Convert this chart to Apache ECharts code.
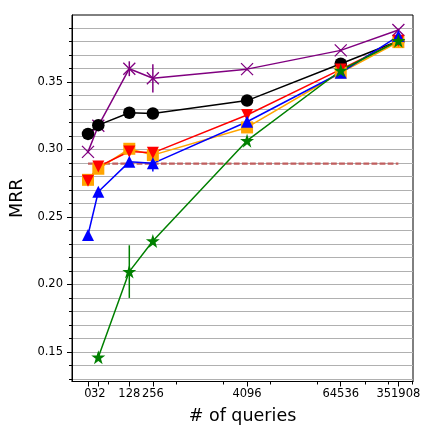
<!DOCTYPE html>
<html>
<head>
<meta charset="utf-8">
<script src="https://cdn.jsdelivr.net/npm/echarts@6/dist/echarts.min.js"></script>
<style>
  html, body { margin: 0; padding: 0; background: #fff; }
  #chart { width: 427px; height: 440px; }
</style>
</head>
<body>
<div id="chart"></div>
<script>
// number of queries (x) and MRR per method
const queries = [0, 32, 128, 256, 4096, 64536, 351908]
const xTickLabels = ['0', '32', '128', '256', '4096', '64536', '351908']
const xMinorTicks = [64, 512, 2048, 8192, 32768, 131072, 262144, 524288]
const yMajorTicks = [0.15, 0.20, 0.25, 0.30, 0.35]
const yMinorTicks = [0.13, 0.14, 0.15, 0.16, 0.17, 0.18, 0.19, 0.20, 0.21, 0.22, 0.23, 0.24, 0.25, 0.26,
  0.27, 0.28, 0.29, 0.30, 0.31, 0.32, 0.33, 0.34, 0.35, 0.36, 0.37, 0.38, 0.39]

const purple = [0.2982, 0.3175, 0.3598, 0.3527, 0.3595, 0.3734, 0.3885]
const purpleErr = [0.001, 0.001, 0.0055, 0.0105, 0.001, 0.001, 0.001]
const black = [0.3115, 0.3180, 0.3272, 0.3266, 0.3362, 0.3635, 0.3803]
const blackErr = [0.001, 0.001, 0.001, 0.001, 0.003, 0.001, 0.001]
const orange = [0.2775, 0.2857, 0.3005, 0.2958, 0.3163, 0.3570, 0.3795]
const orangeErr = [0.001, 0.001, 0.002, 0.001, 0.001, 0.001, 0.001]
const red = [0.2768, 0.2873, 0.2985, 0.2975, 0.3255, 0.3593, 0.3806]
const redErr = [0.002, 0.001, 0.0035, 0.003, 0.001, 0.001, 0.002]
const blue = [0.2366, 0.2687, 0.2908, 0.2897, 0.3205, 0.3568, 0.3840]
const blueErr = [0.001, 0.001, 0.001, 0.006, 0.001, 0.001, 0.001]
const green = [null, 0.1461, 0.2095, 0.2322, 0.3065, 0.3585, 0.3805]
const greenErr = [0, 0.0025, 0.0195, 0.001, 0.001, 0.001, 0.001]
const baseline = [0.2895, 0.2895]
const baselineX = [0, 351908]

// symlog-like x scale: linear up to 128, log2 after
const LIN = 1.754
function xt(n) {
  return n <= 128 ? n / 128 * LIN : LIN + Math.log2(n / 128)
}

const FONT = 'DejaVu Sans'
const STAR = 'path://M50,0L61.8,36.2L100,36.2L69.1,58.6L80.9,95.1L50,72.6L19.1,95.1L30.9,58.6L0,36.2L38.2,36.2Z'
const CROSS = 'path://M0,0L10,10M10,0L0,10'

function lineSeries(vals, color, symbol, size, extra) {
  const data = []
  vals.forEach((v, i) => { if (v != null) data.push([xt(queries[i]), v]) })
  return Object.assign({
    type: 'line',
    data: data,
    symbol: symbol,
    symbolSize: size,
    lineStyle: { color: color, width: 1.5 },
    itemStyle: { color: color },
    z: 3,
    animation: false
  }, extra || {})
}

function errSeries(vals, errs, color) {
  const data = []
  vals.forEach((v, i) => { if (v != null) data.push([xt(queries[i]), v, errs[i]]) })
  return {
    type: 'custom',
    data: data,
    z: 2,
    animation: false,
    renderItem: (params, api) => {
      const x = api.value(0), y = api.value(1), e = api.value(2)
      const p1 = api.coord([x, y - e])
      const p2 = api.coord([x, y + e])
      return {
        type: 'line',
        shape: { x1: p1[0], y1: p1[1], x2: p2[0], y2: p2[1] },
        style: { stroke: color, lineWidth: 1.5 }
      }
    }
  }
}

function nearestLabel(v) {
  let best = 0
  queries.forEach((q, i) => { if (Math.abs(xt(q) - v) < Math.abs(xt(queries[best]) - v)) best = i })
  return xTickLabels[best]
}

const chart = echarts.init(document.getElementById('chart'))

// "32" sits right against "0", so it goes on the second (minor) axis to avoid overlap hiding
const xMajor = queries.map(xt)
const xLabelsA = queries.filter(q => q !== 32).map(xt)
const xLabelsB = [xt(32)]
const tickLabelStyle = { margin: 7, color: '#000', fontFamily: FONT, fontSize: 11.5, formatter: nearestLabel }

const option = {
  backgroundColor: '#fff',
  grid: { left: 72, right: 14, top: 15, bottom: 58.5, show: true, borderColor: '#000', borderWidth: 1 },
  xAxis: [
    {
      type: 'value', min: -0.679, max: 13.80, position: 'bottom',
      name: '# of queries', nameLocation: 'middle', nameGap: 26,
      nameTextStyle: { fontFamily: FONT, fontSize: 17.5, color: '#000' },
      axisLine: { show: true, onZero: false, lineStyle: { color: '#000', width: 1 } },
      axisTick: { customValues: xMajor, length: 5, lineStyle: { color: '#000', width: 1 } },
      axisLabel: Object.assign({ customValues: xLabelsA }, tickLabelStyle),
      splitLine: { show: false }
    },
    {
      type: 'value', min: -0.679, max: 13.80, position: 'bottom',
      axisLine: { show: false, onZero: false },
      axisTick: { customValues: xMinorTicks.map(xt), length: 3, lineStyle: { color: '#000', width: 1 } },
      axisLabel: Object.assign({ customValues: xLabelsB }, tickLabelStyle),
      splitLine: { show: false }
    }
  ],
  yAxis: [
    {
      type: 'value', min: 0.1281, max: 0.3996, position: 'left',
      name: 'MRR', nameLocation: 'middle', nameGap: 38,
      nameTextStyle: { fontFamily: FONT, fontSize: 17.5, color: '#000' },
      axisLine: { show: true, onZero: false, lineStyle: { color: '#000', width: 1 } },
      axisTick: { customValues: yMajorTicks, length: 5, lineStyle: { color: '#000', width: 1 } },
      axisLabel: {
        customValues: yMajorTicks, margin: 9, color: '#000', fontFamily: FONT, fontSize: 11.5,
        formatter: v => v.toFixed(2)
      },
      splitLine: { show: false }
    },
    {
      type: 'value', min: 0.1281, max: 0.3996, position: 'left',
      axisLine: { show: false, onZero: false },
      axisTick: { customValues: yMinorTicks, length: 3, lineStyle: { color: '#000', width: 1 } },
      axisLabel: { show: false },
      splitLine: { show: true, lineStyle: { color: '#b0b0b0', width: 1 } }
    }
  ],
  series: [
    {
      type: 'line',
      data: baselineX.map((q, i) => [xt(q), baseline[i]]),
      symbol: 'none',
      lineStyle: { color: '#c05e5e', width: 2.2, type: [5.8, 2.3] },
      z: 2,
      animation: false
    },
    errSeries(purple, purpleErr, '#800080'),
    lineSeries(purple, '#800080', CROSS, 12, {
      itemStyle: { color: '#800080', borderColor: '#800080', borderWidth: 1.3 }
    }),
    errSeries(black, blackErr, '#000'),
    lineSeries(black, '#000', 'circle', 12.5),
    errSeries(orange, orangeErr, '#ffa500'),
    lineSeries(orange, '#ffa500', 'rect', 12),
    errSeries(red, redErr, '#ff0000'),
    lineSeries(red, '#ff0000', 'triangle', 12, { symbolRotate: 180 }),
    errSeries(blue, blueErr, '#0000ff'),
    lineSeries(blue, '#0000ff', 'triangle', 12),
    errSeries(green, greenErr, '#008000'),
    lineSeries(green, '#008000', STAR, 14)
  ]
}
chart.setOption(option)
</script>
</body>
</html>
